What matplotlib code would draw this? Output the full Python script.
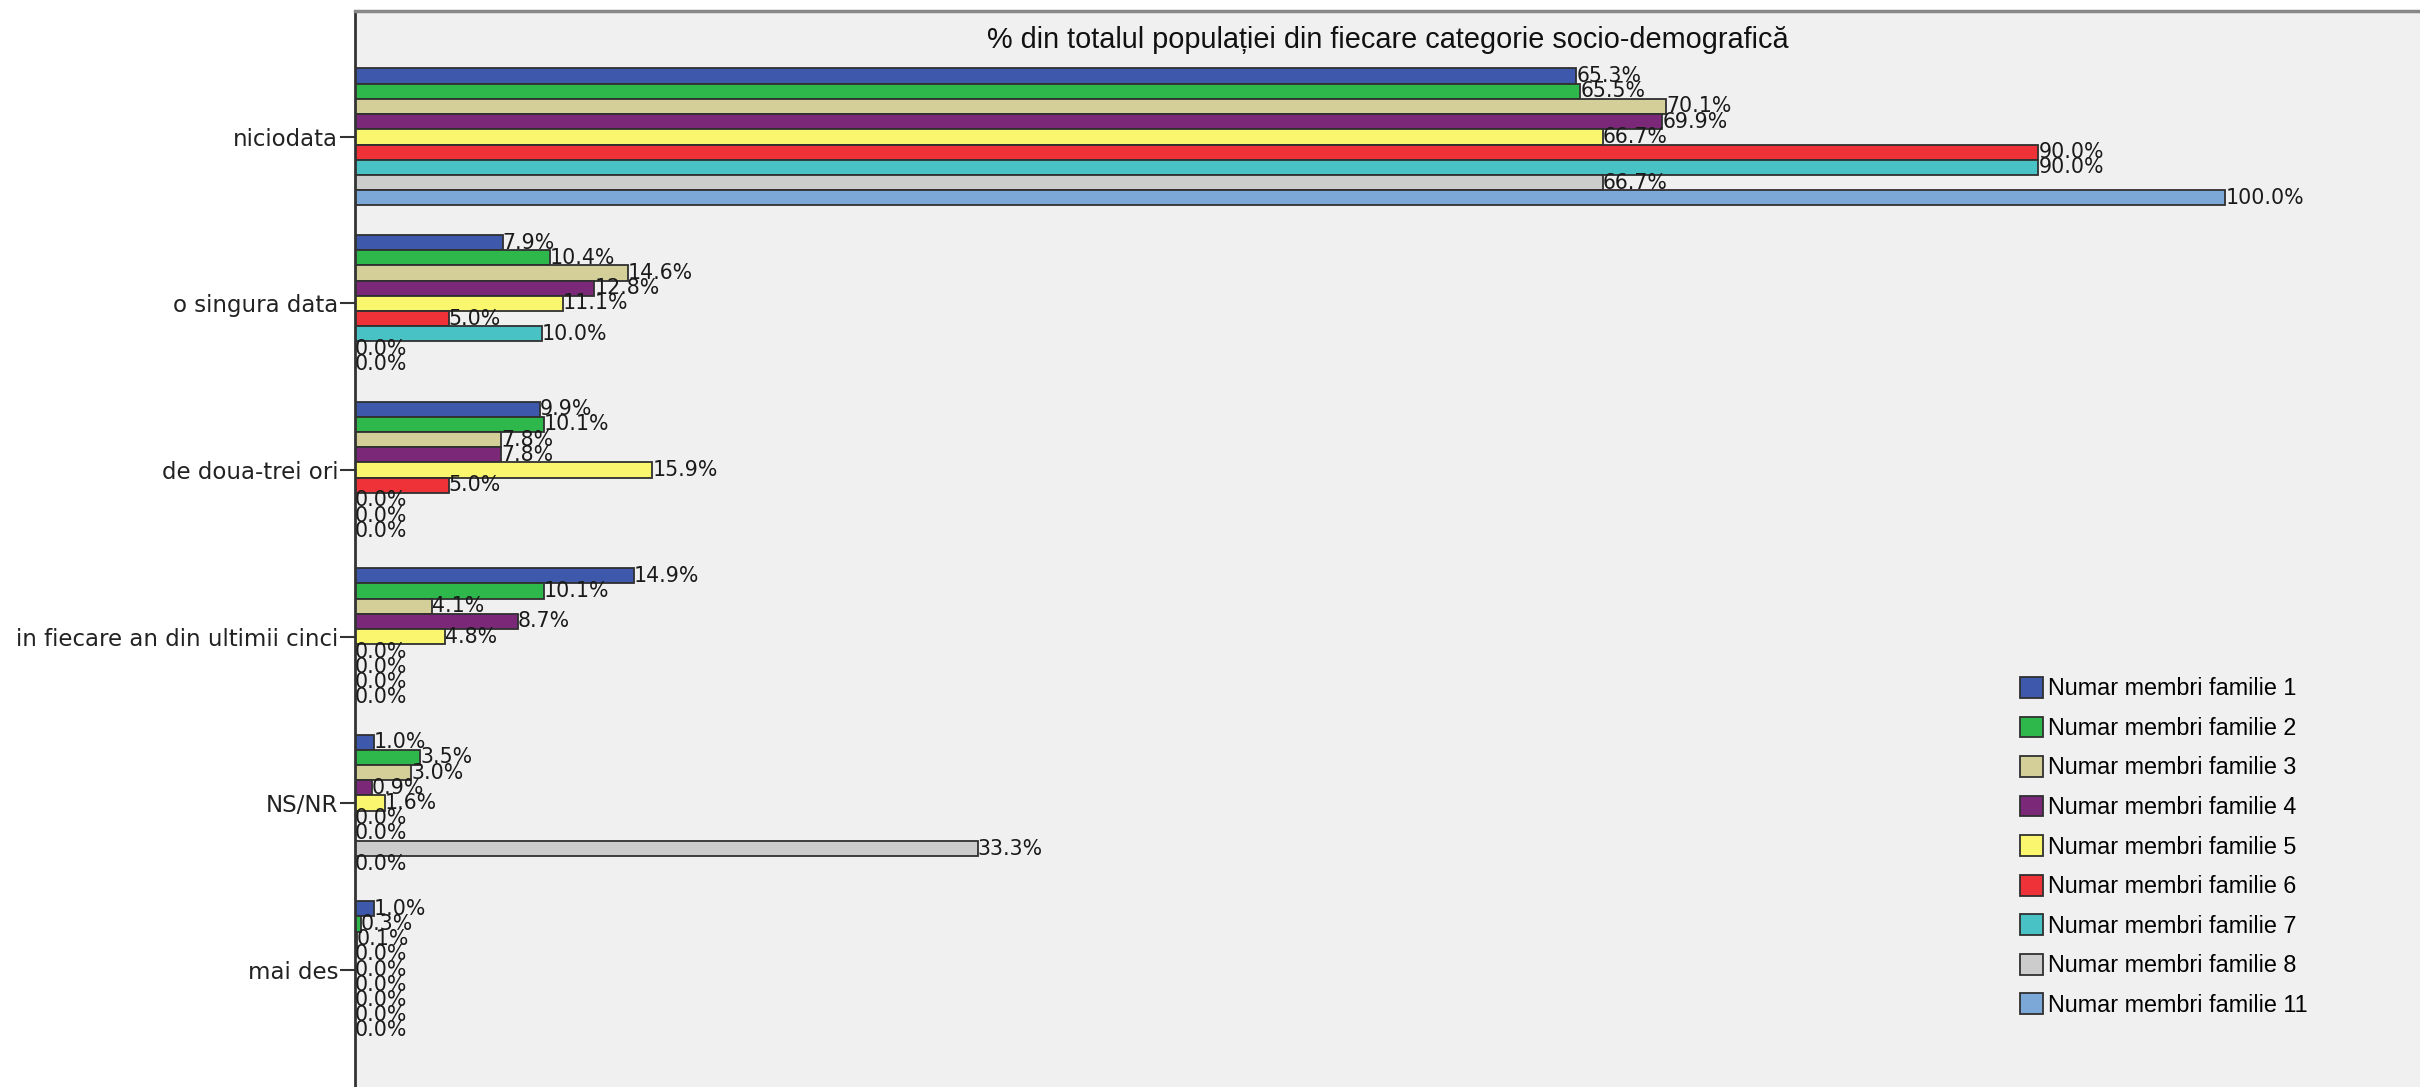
import matplotlib
matplotlib.use("Agg")
import matplotlib.pyplot as plt
from matplotlib.patches import Patch

# categorii (axa verticala)
categories = ["niciodata", "o singura data", "de doua-trei ori",
              "in fiecare an din ultimii cinci", "NS/NR", "mai des"]

# serii: numar membri familie
series_names = ["Numar membri familie 1", "Numar membri familie 2", "Numar membri familie 3",
                "Numar membri familie 4", "Numar membri familie 5", "Numar membri familie 6",
                "Numar membri familie 7", "Numar membri familie 8", "Numar membri familie 11"]

fam_1 = [65.3, 7.9, 9.9, 14.9, 1.0, 1.0]
fam_2 = [65.5, 10.4, 10.1, 10.1, 3.5, 0.3]
fam_3 = [70.1, 14.6, 7.8, 4.1, 3.0, 0.1]
fam_4 = [69.9, 12.8, 7.8, 8.7, 0.9, 0.0]
fam_5 = [66.7, 11.1, 15.9, 4.8, 1.6, 0.0]
fam_6 = [90.0, 5.0, 5.0, 0.0, 0.0, 0.0]
fam_7 = [90.0, 10.0, 0.0, 0.0, 0.0, 0.0]
fam_8 = [66.7, 0.0, 0.0, 0.0, 33.3, 0.0]
fam_11 = [100.0, 0.0, 0.0, 0.0, 0.0, 0.0]

series_values = [fam_1, fam_2, fam_3, fam_4, fam_5, fam_6, fam_7, fam_8, fam_11]

colors = ["#3E58AC", "#2EB84B", "#D4CF98", "#7B2879", "#FAF76F",
          "#EF3238", "#49C2C5", "#CCCCCC", "#7BA8D7"]

title = "% din totalul populației din fiecare categorie socio-demografică"

W, H = 2420, 1087
fig = plt.figure(figsize=(W / 100, H / 100), dpi=100)
fig.patch.set_facecolor("white")

ax_left = 355 / W
ax_top = 11 / H
ax = fig.add_axes([ax_left, 0, 1 - ax_left, 1 - ax_top])
ax.set_facecolor("#F0F0F0")

bar_h = 0.0913
for j, vals in enumerate(series_values):
    ys = [i + (j - 4) * bar_h for i in range(len(categories))]
    ax.barh(ys, vals, height=bar_h, color=colors[j], edgecolor="#303030",
            linewidth=1.3, zorder=2)
    for y, v in zip(ys, vals):
        ax.text(v, y, f"{v:.1f}%", ha="left", va="center", fontsize=14.8,
                color="#1A1A1A", family="DejaVu Sans", zorder=3)

ax.set_xlim(0, 110.4)
ax.set_ylim(5.705, -0.756)
ax.set_xticks([])
ax.set_yticks(range(len(categories)))
ax.set_yticklabels(categories, fontsize=16.5, family="DejaVu Sans", color="#222222")
ax.tick_params(axis="y", direction="out", length=11, width=1.5, color="#333333", pad=1)

for side in ["right", "bottom"]:
    ax.spines[side].set_visible(False)
ax.spines["left"].set_color("#333333")
ax.spines["left"].set_linewidth(2)
ax.spines["top"].set_color("#888888")
ax.spines["top"].set_linewidth(2.5)

ax.text(0.5, 1 - 29 / (H - 11), title, transform=ax.transAxes, ha="center", va="center",
        fontsize=20.8, family="Liberation Sans", color="#111111")

handles = [Patch(facecolor=c, edgecolor="#303030", linewidth=1.3) for c in colors]
fig.legend(handles, series_names, loc="upper left",
           bbox_to_anchor=(2020 / W, 1 - 677 / H), bbox_transform=fig.transFigure,
           frameon=False, prop={"family": "Liberation Sans", "size": 16.8},
           handlelength=1.0, handleheight=1.0, handletextpad=0.2,
           labelspacing=0.69, borderpad=0, borderaxespad=0)

fig.savefig("out.png", dpi=100)
